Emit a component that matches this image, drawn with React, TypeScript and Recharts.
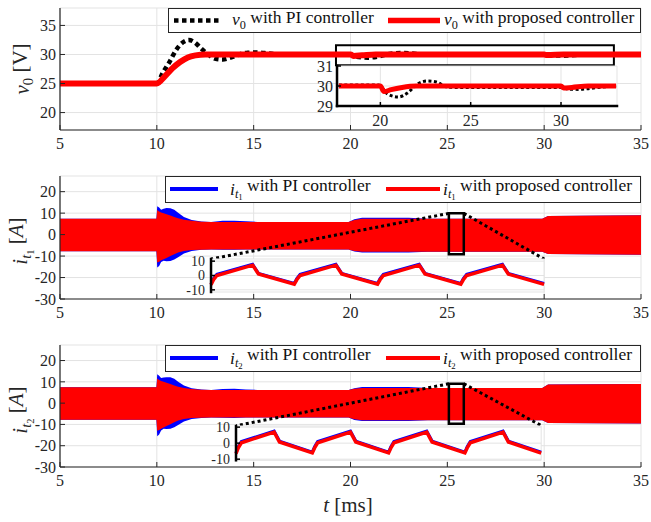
import React from "react";
import {
  Area,
  CartesianGrid,
  ComposedChart,
  Line,
  LineChart,
  ReferenceArea,
  ReferenceLine,
  XAxis,
  YAxis,
} from "recharts";

const FONT = "Liberation Serif, DejaVu Serif, Times, serif";
const INK = "#262626";
const GRID = "#e3e3e3";
const RED = "#ff0000";
const BLUE = "#0000ff";

// time axis [ms], shared by the three panels
const timeTicks = [5, 10, 15, 20, 25, 30, 35];

// ---- panel 1: output voltage v0 [V]
const v0Ticks = [20, 25, 30, 35];
const v0PiT = [5, 10, 10.3, 10.65, 11.0, 11.35, 11.65, 11.95, 12.3, 12.65, 13.0, 13.4, 13.8, 14.2, 14.7, 15.2, 15.8, 16.5, 20.0, 20.3, 20.9, 21.5, 22.0, 22.6, 23.2, 23.8, 24.5, 30.0, 30.4, 31.0, 31.6, 32.2, 35];
const v0PiV = [25, 25, 26.8, 28.7, 30.8, 32.1, 32.5, 32.1, 31.0, 30.0, 29.3, 29.15, 29.45, 29.95, 30.3, 30.35, 30.15, 30.0, 30.0, 29.6, 29.45, 29.7, 30.1, 30.25, 30.15, 29.95, 30.0, 30.0, 29.85, 29.8, 29.9, 30.0, 30.0];
const v0PropT = [5, 10, 10.4, 10.8, 11.2, 11.6, 12.0, 12.5, 20.0, 20.15, 20.6, 21.3, 30.0, 30.15, 31.0, 35];
const v0PropV = [25, 25, 26.2, 27.6, 28.7, 29.5, 29.85, 30.0, 30.0, 29.75, 29.85, 30.0, 30.0, 29.9, 30.0, 30.0];

// inset of panel 1 (its own time axis)
const v0ZoomTicksX = [20, 25, 30];
const v0ZoomTicksY = [29, 30, 31];
const v0ZoomPiT = [17.7, 19.9, 20.4, 21.0, 21.5, 22.05, 22.6, 23.1, 23.7, 24.5, 30.0, 30.4, 31.0, 31.6, 32.3, 33.05];
const v0ZoomPiV = [30.05, 30.05, 29.6, 29.45, 29.65, 30.1, 30.25, 30.2, 29.95, 29.92, 29.92, 29.85, 29.83, 29.88, 29.95, 30.0];
const v0ZoomPropT = [17.7, 20.0, 20.2, 20.6, 21.2, 22.0, 30.0, 30.15, 30.6, 31.5, 33.05];
const v0ZoomPropV = [30.0, 30.0, 29.72, 29.82, 29.93, 30.0, 30.0, 29.9, 29.93, 30.0, 30.0];

// ---- panels 2 and 3: inductor currents, envelope of the switching ripple [A]
const iTicks = [-30, -20, -10, 0, 10, 20];
const it1T = [5, 9.98, 10.02, 10.12, 10.22, 10.35, 10.5, 10.7, 10.9, 11.1, 11.4, 11.8, 12.3, 12.8, 13.4, 14.0, 14.6, 15.2, 19.9, 20.2, 20.6, 23.0, 24.0, 29.9, 30.2, 35];
const it1PropHi = [7.4, 7.4, 11.5, 10.8, 10.3, 9.9, 9.5, 8.9, 8.2, 7.6, 6.9, 6.4, 6.0, 5.9, 5.9, 5.9, 5.9, 5.9, 5.9, 6.8, 7.4, 7.4, 7.4, 7.4, 8.7, 9.0];
const it1PropLo = [-7.75, -7.75, -13.0, -12.6, -12.0, -11.5, -10.9, -10.0, -9.1, -8.3, -7.6, -7.2, -7.0, -6.9, -6.9, -6.9, -6.9, -6.9, -6.9, -7.6, -8.0, -8.0, -8.0, -8.0, -9.0, -9.35];
const it1PiHi = [7.4, 7.4, 13.2, 12.6, 11.6, 12.1, 12.4, 12.3, 11.6, 10.2, 8.2, 6.8, 6.1, 5.9, 6.4, 6.5, 6.2, 5.9, 5.9, 7.2, 7.8, 7.9, 7.4, 7.4, 8.7, 9.0];
const it1PiLo = [-7.75, -7.75, -15.3, -14.6, -12.8, -12.2, -12.4, -12.3, -11.6, -10.6, -8.8, -7.6, -7.1, -6.9, -7.0, -7.1, -6.9, -6.9, -6.9, -7.9, -8.3, -8.3, -8.0, -8.0, -9.0, -9.35];

const it2T = [5, 9.98, 10.02, 10.12, 10.22, 10.35, 10.5, 10.7, 10.9, 11.1, 11.4, 11.8, 12.3, 12.8, 13.4, 14.0, 14.6, 15.2, 19.9, 20.2, 20.6, 23.0, 24.0, 29.9, 30.2, 35];
const it2PropHi = [7.45, 7.45, 11.6, 10.9, 10.4, 10.0, 9.6, 9.0, 8.3, 7.7, 7.1, 6.6, 6.3, 6.2, 6.2, 6.2, 6.2, 6.2, 6.2, 6.8, 7.1, 7.1, 7.1, 7.1, 8.7, 9.0];
const it2PropLo = [-7.75, -7.75, -13.0, -12.6, -12.0, -11.4, -10.8, -9.9, -9.0, -8.2, -7.4, -7.0, -6.85, -6.8, -6.8, -6.8, -6.8, -6.8, -6.8, -7.6, -8.1, -8.1, -8.1, -8.1, -9.3, -9.6];
const it2PiHi = [7.45, 7.45, 13.6, 12.9, 11.8, 12.0, 12.2, 12.1, 11.4, 10.0, 8.3, 7.0, 6.4, 6.2, 6.6, 6.7, 6.4, 6.2, 6.2, 7.0, 7.6, 7.6, 7.1, 7.1, 8.7, 9.0];
const it2PiLo = [-7.75, -7.75, -15.5, -14.7, -12.9, -12.0, -12.1, -12.0, -11.3, -10.3, -8.6, -7.4, -6.95, -6.8, -6.9, -7.0, -6.8, -6.8, -6.8, -7.9, -8.4, -8.4, -8.1, -8.1, -9.3, -9.6];

// zoomed waveforms (four switching periods)
const waveTicksX = [0, 1, 2, 3, 4];
const waveTicksY = [-10, 0, 10];
const it1WaveT = [0, 0.03, 0.07, 0.5, 0.57, 1.0, 1.03, 1.07, 1.5, 1.57, 2.0, 2.03, 2.07, 2.5, 2.57, 3.0, 3.03, 3.07, 3.5, 3.57, 4.0];
const it1WaveProp = [-6.5, -3.0, 0, 7.2, 1.0, -6.0, -3.0, 0, 7.2, 1.0, -6.0, -3.0, 0, 7.2, 1.0, -6.0, -3.0, 0, 7.2, 1.0, -6.2];
const it1WavePi = [-6.0, -2.2, 0.8, 7.8, 1.5, -5.6, -2.2, 0.8, 7.8, 1.5, -5.6, -2.2, 0.8, 7.8, 1.5, -5.6, -2.2, 0.8, 7.8, 1.5, -5.6];
const it2WaveT = [0, 0.03, 0.07, 0.5, 0.57, 1.0, 1.03, 1.07, 1.5, 1.57, 2.0, 2.03, 2.07, 2.5, 2.57, 3.0, 3.03, 3.07, 3.5, 3.57, 4.0];
const it2WaveProp = [-6.5, -3.0, 0.2, 6.9, 0.7, -6.1, -3.0, 0.2, 6.9, 0.7, -6.1, -3.0, 0.2, 6.9, 0.7, -6.1, -3.0, 0.2, 6.9, 0.7, -6.2];
const it2WavePi = [-6.0, -2.2, 1.0, 7.5, 1.3, -5.6, -2.2, 1.0, 7.5, 1.3, -5.6, -2.2, 1.0, 7.5, 1.3, -5.6, -2.2, 1.0, 7.5, 1.3, -5.6];

// zoom boxes and inset placement, in panel data coordinates
const v0Box = { x1: 19.25, x2: 33.6, y1: 28.15, y2: 31.6 };
const v0Inset = { x1: 19.3, x2: 33.76, y1: 21.13, y2: 28.02 };
const it1Box = { x1: 25.08, x2: 25.85, y1: -9.2, y2: 9.9 };
const it1Inset = { x1: 12.8, x2: 30.0, y1: -26.74, y2: -11.37 };
const it2Box = { x1: 25.08, x2: 25.85, y1: -9.7, y2: 9.1 };
const it2Inset = { x1: 14.1, x2: 29.86, y1: -26.71, y2: -10.6 };

const rows = (xs: number[], ys: number[]) => xs.map((t, i) => ({ t, v: ys[i] }));
const band = (xs: number[], piLo: number[], piHi: number[], prLo: number[], prHi: number[]) =>
  xs.map((t, i) => ({ t, pi: [piLo[i], piHi[i]], prop: [prLo[i], prHi[i]] }));

const it1Data = band(it1T, it1PiLo, it1PiHi, it1PropLo, it1PropHi);
const it2Data = band(it2T, it2PiLo, it2PiHi, it2PropLo, it2PropHi);

// panel geometry
const W = 651;
const PLOT_L = 60;
const PLOT_R = 641;
const X_DOMAIN: [number, number] = [5, 35];
const P1 = { top: 0, height: 160, plotTop: 8, domain: [17, 38] as [number, number] };
const P2 = { top: 168, height: 161, plotTop: 176, domain: [-30, 27.3] as [number, number] };
const P3 = { top: 337, height: 160, plotTop: 345, domain: [-30, 27.3] as [number, number] };

const px = (t: number) => PLOT_L + ((t - X_DOMAIN[0]) / (X_DOMAIN[1] - X_DOMAIN[0])) * (PLOT_R - PLOT_L);
function py(p: typeof P1, v: number) {
  const bottom = p.top + p.height - 30;
  return bottom - ((v - p.domain[0]) / (p.domain[1] - p.domain[0])) * (bottom - p.plotTop);
}
function insetRect(p: typeof P1, r: { x1: number; x2: number; y1: number; y2: number }) {
  const left = px(r.x1);
  const top = py(p, r.y2);
  return { left, top, width: px(r.x2) - left, height: py(p, r.y1) - top };
}

const tickStyle = { fill: INK, fontSize: 16, fontFamily: FONT };
const smallTick = { fill: INK, fontSize: 14, fontFamily: FONT };
const frame = { stroke: INK, strokeWidth: 1.2 };

function panelAxes(domain: [number, number], yTicks: number[]) {
  return [
    <XAxis key="xb" dataKey="t" type="number" domain={X_DOMAIN} ticks={timeTicks} interval={0} height={30}
      tickSize={-5} tickMargin={13} axisLine={frame} tickLine={{ stroke: INK }} tick={tickStyle} />,
    <XAxis key="xt" xAxisId="top" orientation="top" type="number" domain={X_DOMAIN} ticks={timeTicks}
      height={0} tick={false} tickLine={false} axisLine={frame} />,
    <YAxis key="yl" type="number" domain={domain} ticks={yTicks} interval={0} width={60}
      tickSize={-5} tickMargin={9} axisLine={frame} tickLine={{ stroke: INK }} tick={tickStyle} allowDataOverflow />,
    <YAxis key="yr" yAxisId="right" orientation="right" type="number" domain={domain} width={0}
      tick={false} tickLine={false} axisLine={frame} />,
  ];
}

type InsetProps = {
  rect: { left: number; top: number; width: number; height: number };
  xDomain: [number, number];
  xTicks: number[];
  xLabels: boolean;
  yDomain: [number, number];
  yTicks: number[];
  yGap: number;
  yFont: typeof tickStyle;
  children: React.ReactNode;
};

function Inset({ rect, xDomain, xTicks, xLabels, yDomain, yTicks, yGap, yFont, children }: InsetProps) {
  const pad = 8;
  const yw = 45;
  const xh = xLabels ? 26 : 0;
  const edge = { stroke: "#000", strokeWidth: 2.5, strokeLinecap: "square" as const };
  const tl = { stroke: "#000", strokeWidth: 1.5 };
  return (
    <div style={{ position: "absolute", left: rect.left - yw, top: rect.top - pad }}>
      <LineChart width={rect.width + yw + pad} height={rect.height + pad + (xLabels ? xh : pad)}
        margin={{ top: pad, right: pad, bottom: xLabels ? 0 : pad, left: 0 }}>
        <CartesianGrid stroke={GRID} fill="#ffffff" />
        <XAxis dataKey="t" type="number" domain={xDomain} ticks={xTicks} interval={0} height={xh}
          tickSize={-4} tickMargin={12.5} axisLine={edge} tickLine={tl} tick={xLabels ? tickStyle : false} />
        <XAxis xAxisId="top" orientation="top" type="number" domain={xDomain} ticks={xTicks} height={0}
          tickSize={-4} axisLine={edge} tickLine={tl} tick={false} />
        <YAxis type="number" domain={yDomain} ticks={yTicks} interval={0} width={yw}
          tickSize={-4} tickMargin={4 + yGap} axisLine={edge} tickLine={tl} tick={yFont} />
        <YAxis yAxisId="right" orientation="right" type="number" domain={yDomain} ticks={yTicks} width={0}
          tickSize={-4} axisLine={edge} tickLine={tl} tick={false} />
        {children}
      </LineChart>
    </div>
  );
}

function CurrentPanel({ p, data, box, inset }: { p: typeof P2; data: typeof it1Data; box: typeof it1Box; inset: typeof it1Inset }) {
  return (
    <div style={{ position: "absolute", left: 0, top: p.top }}>
      <ComposedChart width={W} height={p.height} data={data} margin={{ top: 8, right: W - PLOT_R, bottom: 0, left: 0 }}>
        <CartesianGrid stroke={GRID} />
        {panelAxes(p.domain, iTicks)}
        <Area dataKey="pi" type="linear" stroke="none" fill={BLUE} fillOpacity={1} isAnimationActive={false} />
        <Area dataKey="prop" type="linear" stroke="none" fill={RED} fillOpacity={1} isAnimationActive={false} />
        <ReferenceArea x1={box.x1} x2={box.x2} y1={box.y1} y2={box.y2} fill="none" fillOpacity={0}
          stroke="#000" strokeWidth={2.5} ifOverflow="visible" />
        <ReferenceLine segment={[{ x: box.x1, y: box.y2 }, { x: inset.x1, y: inset.y2 }]} stroke="#000"
          strokeWidth={3} strokeDasharray="3 3" ifOverflow="visible" />
        <ReferenceLine segment={[{ x: box.x2, y: box.y2 }, { x: inset.x2, y: inset.y2 }]} stroke="#000"
          strokeWidth={3} strokeDasharray="3 3" ifOverflow="visible" />
      </ComposedChart>
    </div>
  );
}

function Sub({ children }: { children: React.ReactNode }) {
  return <tspan fontSize="0.7em" dy="0.3em">{children}</tspan>;
}

export default function App() {
  const v0InsetRect = insetRect(P1, v0Inset);
  const it1InsetRect = insetRect(P2, it1Inset);
  const it2InsetRect = insetRect(P3, it2Inset);

  return (
    <div style={{ position: "absolute", left: 0, top: 0, width: W, height: 522, background: "#fff", fontFamily: FONT }}>
      {/* panel 1 */}
      <div style={{ position: "absolute", left: 0, top: P1.top }}>
        <ComposedChart width={W} height={P1.height} margin={{ top: 8, right: W - PLOT_R, bottom: 0, left: 0 }}>
          <CartesianGrid stroke={GRID} />
          {panelAxes(P1.domain, v0Ticks)}
          <Line data={rows(v0PiT, v0PiV)} dataKey="v" type="monotone" stroke="#000" strokeWidth={4.5}
            strokeDasharray="4.5 3.5" dot={false} isAnimationActive={false} />
          <Line data={rows(v0PropT, v0PropV)} dataKey="v" type="monotone" stroke={RED} strokeWidth={6}
            dot={false} isAnimationActive={false} />
          <ReferenceArea x1={v0Box.x1} x2={v0Box.x2} y1={v0Box.y1} y2={v0Box.y2} fill="none" fillOpacity={0}
            stroke="#000" strokeWidth={2} ifOverflow="visible" />
        </ComposedChart>
      </div>
      <Inset rect={v0InsetRect} xDomain={[17.6, 33.1]} xTicks={v0ZoomTicksX} xLabels yDomain={[29, 31]}
        yTicks={v0ZoomTicksY} yGap={4} yFont={tickStyle}>
        <Line data={rows(v0ZoomPiT, v0ZoomPiV)} dataKey="v" type="monotone" stroke="#000" strokeWidth={3}
          strokeDasharray="3 2.5" dot={false} isAnimationActive={false} />
        <Line data={rows(v0ZoomPropT, v0ZoomPropV)} dataKey="v" type="monotone" stroke={RED} strokeWidth={5}
          dot={false} isAnimationActive={false} />
      </Inset>

      {/* panel 2 */}
      <CurrentPanel p={P2} data={it1Data} box={it1Box} inset={it1Inset} />
      <Inset rect={it1InsetRect} xDomain={[0, 4]} xTicks={waveTicksX} xLabels={false} yDomain={[-11.5, 11.5]}
        yTicks={waveTicksY} yGap={6} yFont={smallTick}>
        <Line data={rows(it1WaveT, it1WavePi)} dataKey="v" stroke={BLUE} strokeWidth={3} dot={false} isAnimationActive={false} />
        <Line data={rows(it1WaveT, it1WaveProp)} dataKey="v" stroke={RED} strokeWidth={3.5} dot={false} isAnimationActive={false} />
      </Inset>

      {/* panel 3 */}
      <CurrentPanel p={P3} data={it2Data} box={it2Box} inset={it2Inset} />
      <Inset rect={it2InsetRect} xDomain={[0, 4]} xTicks={waveTicksX} xLabels={false} yDomain={[-10.7, 10.7]}
        yTicks={waveTicksY} yGap={6} yFont={smallTick}>
        <Line data={rows(it2WaveT, it2WavePi)} dataKey="v" stroke={BLUE} strokeWidth={3} dot={false} isAnimationActive={false} />
        <Line data={rows(it2WaveT, it2WaveProp)} dataKey="v" stroke={RED} strokeWidth={3.5} dot={false} isAnimationActive={false} />
      </Inset>

      {/* legends and axis titles */}
      <svg width={W} height={522} style={{ position: "absolute", left: 0, top: 0, pointerEvents: "none", fontFamily: FONT }}
        fill="#111">
        <g>
          <rect x={168.5} y={8.5} width={472} height={24} fill="#fff" stroke={INK} strokeWidth={1} />
          <line x1={174} x2={220} y1={20.5} y2={20.5} stroke="#000" strokeWidth={4.5} strokeDasharray="4.5 3.5" />
          <text x={232} y={25} fontSize={17.5}>
            <tspan fontStyle="italic">v</tspan><Sub>0</Sub><tspan dy="-0.3em"> with PI controller</tspan>
          </text>
          <line x1={388} x2={440} y1={20.5} y2={20.5} stroke={RED} strokeWidth={5.5} />
          <text x={444} y={25} fontSize={17.5}>
            <tspan fontStyle="italic">v</tspan><Sub>0</Sub><tspan dy="-0.3em"> with proposed controller</tspan>
          </text>
        </g>
        {[{ y: 176, n: "1" }, { y: 345, n: "2" }].map(({ y, n }) => (
          <g key={n}>
            <rect x={165.5} y={y + 0.5} width={475} height={26} fill="#fff" stroke={INK} strokeWidth={1} />
            <line x1={170} x2={218} y1={y + 13} y2={y + 13} stroke={BLUE} strokeWidth={4} />
            <text x={230} y={y + 18.5} fontSize={17.5}>
              <tspan fontStyle="italic">i</tspan><tspan fontSize="0.7em" fontStyle="italic" dy="0.3em">t</tspan>
              <tspan fontSize="0.5em" dy="0.2em">{n}</tspan><tspan dy="-0.5em"> with PI controller</tspan>
            </text>
            <line x1={386} x2={440} y1={y + 13} y2={y + 13} stroke={RED} strokeWidth={4} />
            <text x={443} y={y + 18.5} fontSize={17.5}>
              <tspan fontStyle="italic">i</tspan><tspan fontSize="0.7em" fontStyle="italic" dy="0.3em">t</tspan>
              <tspan fontSize="0.5em" dy="0.2em">{n}</tspan><tspan dy="-0.5em"> with proposed controller</tspan>
            </text>
          </g>
        ))}
        <text transform="translate(29,69) rotate(-90)" textAnchor="middle" fontSize={21} fill={INK}>
          <tspan fontStyle="italic">v</tspan><Sub>0</Sub><tspan dy="-0.3em"> [V]</tspan>
        </text>
        {[{ c: 241, n: "1" }, { c: 410, n: "2" }].map(({ c, n }) => (
          <text key={n} transform={`translate(27,${c}) rotate(-90)`} textAnchor="middle" fontSize={21} fill={INK}>
            <tspan fontStyle="italic">i</tspan><tspan fontSize="0.7em" fontStyle="italic" dy="0.3em">t</tspan>
            <tspan fontSize="0.5em" dy="0.2em">{n}</tspan><tspan dy="-0.5em"> [</tspan>
            <tspan fontStyle="italic">A</tspan><tspan>]</tspan>
          </text>
        ))}
        <text x={348} y={512} textAnchor="middle" fontSize={21} fill={INK}>
          <tspan fontStyle="italic">t</tspan><tspan> [ms]</tspan>
        </text>
      </svg>
    </div>
  );
}
